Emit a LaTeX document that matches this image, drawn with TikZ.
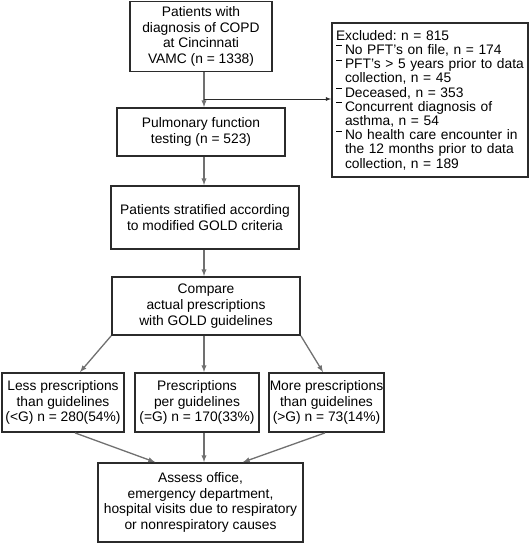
\documentclass[tikz,border=0pt]{standalone}
\usepackage{fontspec}
\setmainfont{Liberation Sans}
\usepackage{xcolor}
\usepackage{tikz}
\usetikzlibrary{arrows}
\frenchspacing
\definecolor{boxline}{HTML}{2B2B2B}
\definecolor{flowline}{HTML}{707070}
\newlength{\exind}
\setlength{\exind}{9pt}
\newcommand{\exdash}{\makebox[\exind][l]{\raisebox{0.6em}{\rule{6pt}{0.7pt}}}}
\newcommand{\exwrap}{\hspace*{\exind}}
\tikzset{
    flownode/.style = {align=center, inner sep=0pt, text centered, font=\fontsize{13.8}{15.7}\selectfont},
    flow_box/.style = {flownode, rectangle, draw=boxline, line width=1.8pt},
    excl_box/.style = {flow_box, align=left, text width=188pt, inner xsep=4pt, inner ysep=4pt, font=\fontsize{13.8}{14.2}\selectfont},
    flow_line/.style = {->, draw=flowline, line width=1.3pt},
    flow_plain/.style = {-, draw=flowline, line width=1.3pt},
    flow_thin/.style = {->, draw=boxline, line width=0.8pt}
}

\begin{document}
\begin{tikzpicture}
            [x=1pt, y=-1pt, >=latex]
            \useasboundingbox (0,0) rectangle (529,543);

            \node [flow_box, minimum width=142pt, minimum height=70pt] (cohort) at (201,36.5)
                {Patients with\\diagnosis of COPD\\at Cincinnati\\VAMC (n = 1338)};
            \node [flow_box, minimum width=168pt, minimum height=48pt] (pft) at (201,132)
                {Pulmonary function\\testing (n = 523)};
            \node [flow_box, minimum width=188pt, minimum height=63pt] (strat) at (205,217.5)
                {Patients stratified according\\to modified GOLD criteria};
            \node [flow_box, minimum width=188pt, minimum height=58pt] (comp) at (206,306)
                {Compare\\actual prescriptions\\with GOLD guidelines};
            \node [excl_box, minimum width=196pt, minimum height=154pt] (excl) at (430,100)
                {Excluded: n = 815\\
                \exdash No PFT’s on file, n = 174\\
                \exdash PFT’s > 5 years prior to data\\
                \exwrap collection, n = 45\\
                \exdash Deceased, n = 353\\
                \exdash Concurrent diagnosis of\\
                \exwrap asthma, n = 54\\
                \exdash No health care encounter in\\
                \exwrap the 12 months prior to data\\
                \exwrap collection, n = 189};
            \node [flow_box, minimum width=122pt, minimum height=59pt] (lessg) at (63,402.5)
                {Less prescriptions\\than guidelines\\(<G) n = 280(54\%)};
            \node [flow_box, minimum width=124pt, minimum height=59pt] (perg) at (197,402.5)
                {Prescriptions\\per guidelines\\(=G) n = 170(33\%)};
            \node [flow_box, minimum width=115pt, minimum height=59pt] (moreg) at (326.5,402.5)
                {More prescriptions\\than guidelines\\(>G) n = 73(14\%)};
            \node [flow_box, minimum width=205pt, minimum height=79pt] (assess) at (200.5,502.5)
                {Assess office,\\emergency department,\\hospital visits due to respiratory\\or nonrespiratory causes};

            % main column
            \coordinate (split) at (204,99);
            \draw [flow_plain] (cohort.south -| split) -- (split);
            \draw [flow_line] (split) -- (pft.north -| split);
            \draw [flow_thin] (split) -- (split -| excl.west);
            \draw [flow_line] (pft.south -| split) -- (strat.north -| split);
            \draw [flow_line] (strat.south -| split) -- (comp.north -| split);

            % three groups
            \draw [flow_line] (comp.south west) -- ([xshift=17pt]lessg.north);
            \draw [flow_line] (comp.south -| split) -- (perg.north -| split);
            \draw [flow_line] (comp.south east) -- ([xshift=-3.5pt]moreg.north);

            \draw [flow_line] ([xshift=12pt]lessg.south) -- ([xshift=-45.5pt]assess.north);
            \draw [flow_line] (perg.south -| split) -- (assess.north -| split);
            \draw [flow_line] ([xshift=-1.5pt]moreg.south) -- ([xshift=42.5pt]assess.north);
        \end{tikzpicture}
\end{document}
